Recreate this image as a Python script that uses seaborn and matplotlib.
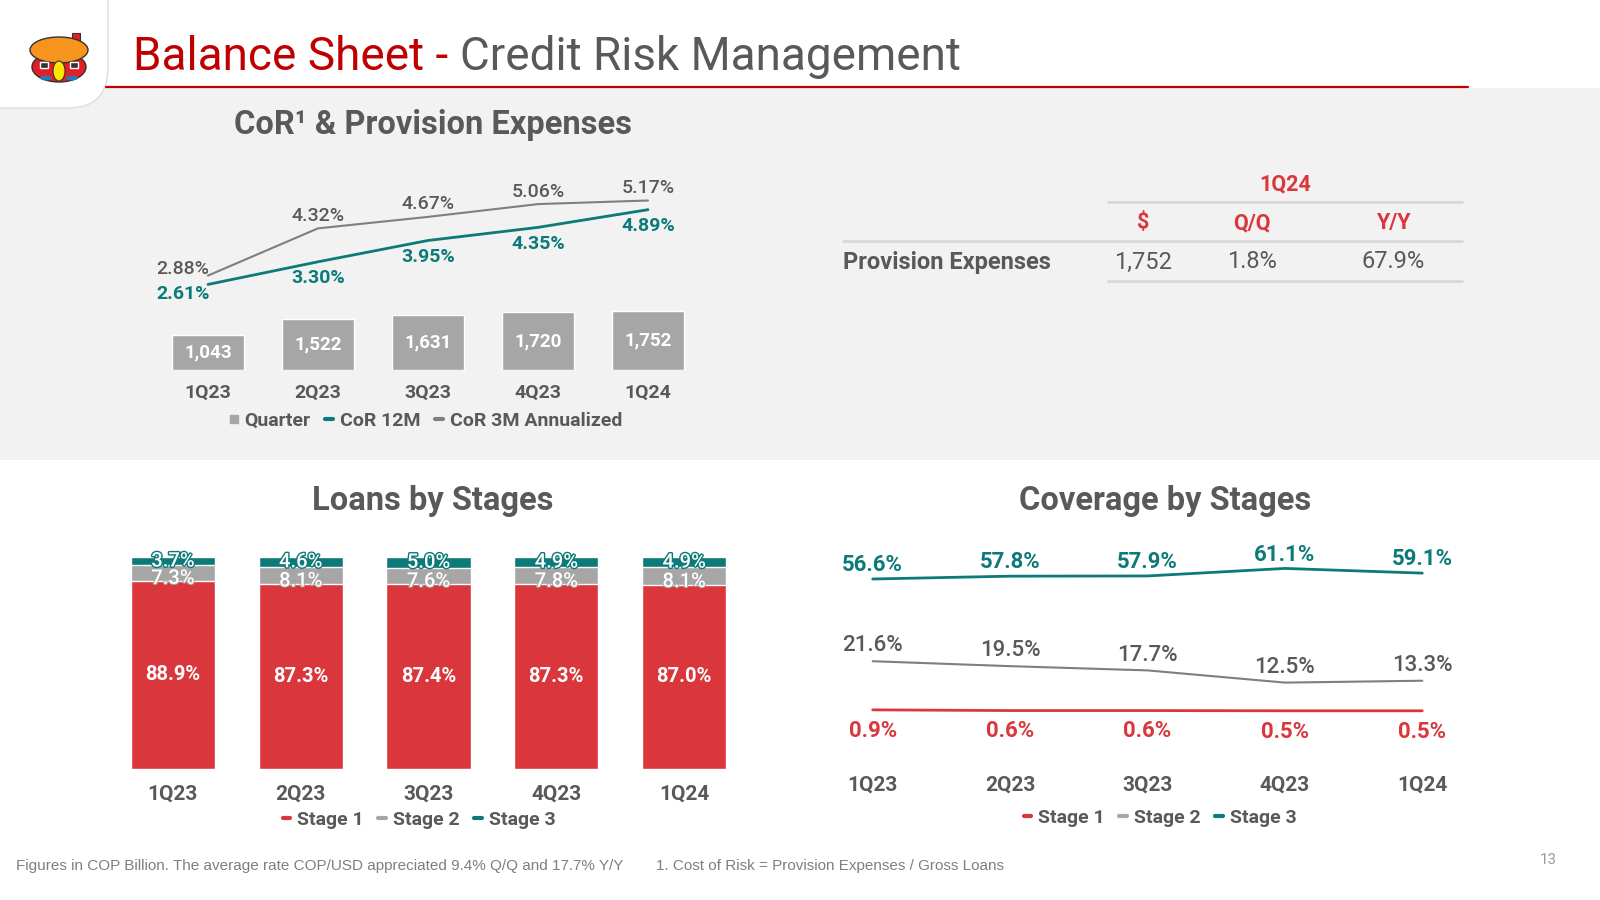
import numpy as np
import pandas as pd
import matplotlib
matplotlib.use("Agg")
import matplotlib.pyplot as plt
import matplotlib.patches as mpatches
import matplotlib.patheffects as pe
from matplotlib.lines import Line2D
import seaborn as sns

# Data
quarters = ["1Q23", "2Q23", "3Q23", "4Q23", "1Q24"]
provision_quarter = [1043, 1522, 1631, 1720, 1752]
cor_12m = [2.61, 3.30, 3.95, 4.35, 4.89]
cor_3m_annualized = [2.88, 4.32, 4.67, 5.06, 5.17]

loans_stage1 = [88.9, 87.3, 87.4, 87.3, 87.0]
loans_stage2 = [7.3, 8.1, 7.6, 7.8, 8.1]
loans_stage3 = [3.7, 4.6, 5.0, 4.9, 4.9]

coverage_stage1 = [0.9, 0.6, 0.6, 0.5, 0.5]
coverage_stage2 = [21.6, 19.5, 17.7, 12.5, 13.3]
coverage_stage3 = [56.6, 57.8, 57.9, 61.1, 59.1]

table_period = "1Q24"
table_columns = ["$", "Q/Q", "Y/Y"]
table_row_label = "Provision Expenses"
table_values = ["1,752", "1.8%", "67.9%"]

# Colours
RED = "#D9373C"
TITLE_RED = "#C00000"
TEAL = "#0B7A78"
GRAY_BAR = "#A6A6A6"
GRAY_LINE = "#7F7F7F"
TEXT_GRAY = "#595959"
PANEL = "#F2F2F2"

sns.set_theme(style="white")
plt.rcParams["font.family"] = ["Roboto", "DejaVu Sans"]

W, H = 1600, 900
fig = plt.figure(figsize=(16, 9), dpi=100)


def px_axes(x0, y0, x1, y1):
    ax = fig.add_axes([x0 / W, 1 - y1 / H, (x1 - x0) / W, (y1 - y0) / H])
    ax.patch.set_alpha(0)
    return ax


def clean(ax):
    for s in ax.spines.values():
        s.set_visible(False)
    ax.set_yticks([])
    ax.set_xlabel("")
    ax.set_ylabel("")


# ---------- background, header, logo ----------
bg = fig.add_axes([0, 0, 1, 1], zorder=0)
bg.set_xlim(0, W)
bg.set_ylim(H, 0)
bg.axis("off")
bg.add_patch(mpatches.Rectangle((0, 88), W, 372, color=PANEL, lw=0))
bg.add_patch(mpatches.FancyBboxPatch((-60, -60), 168, 168,
                                     boxstyle="round,pad=0,rounding_size=40",
                                     facecolor="white", edgecolor="#DDDDDD", lw=1))
bg.plot([106, 1468], [87, 87], color=TITLE_RED, lw=1.6)

# logo (simple house)
bg.add_patch(mpatches.Rectangle((72, 33), 8, 10, facecolor="#E31E24", edgecolor="#333333", lw=0.8))
bg.add_patch(mpatches.Ellipse((59, 67), 54, 30, facecolor="#E31E24", edgecolor="#333333", lw=1))
bg.add_patch(mpatches.Ellipse((59, 50), 58, 26, facecolor="#F7941D", edgecolor="#333333", lw=1))
bg.add_patch(mpatches.Ellipse((59, 71), 12, 20, facecolor="#FFE600", edgecolor="#333333", lw=0.8))
bg.add_patch(mpatches.Rectangle((40, 62), 8, 6, facecolor="#333333"))
bg.add_patch(mpatches.Rectangle((70, 62), 8, 6, facecolor="#333333"))
bg.add_patch(mpatches.Ellipse((46, 78), 12, 5, facecolor="#2E75B6", edgecolor="none"))
bg.add_patch(mpatches.Ellipse((72, 78), 12, 5, facecolor="#2E75B6", edgecolor="none"))

title_a = bg.text(133, 57, "Balance Sheet - ", color=TITLE_RED, fontsize=33, va="center", ha="left")
fig.canvas.draw()
bb = title_a.get_window_extent()
bg.text(133 + bb.width, 57, "Credit Risk Management", color=TEXT_GRAY, fontsize=33,
        va="center", ha="left")

# subtitles
sub = dict(color=TEXT_GRAY, fontsize=23.5, fontweight="bold", ha="center", va="center")
bg.text(433, 125, "CoR¹ & Provision Expenses", **sub)
bg.text(433, 501, "Loans by Stages", **sub)
bg.text(1165, 501, "Coverage by Stages", **sub)

# ---------- top-left: provisions and CoR ----------
pos = np.arange(len(quarters))
ax_top = px_axes(153, 150, 703, 370)
sns.barplot(x=quarters, y=provision_quarter, ax=ax_top, color=GRAY_BAR,
            width=0.66, saturation=1, errorbar=None)
ax_top.set_ylim(0, 6533)
ax_top.set_xlim(-0.5, 4.5)
clean(ax_top)
ax_top.tick_params(axis="x", length=0, pad=10, labelsize=14, colors=TEXT_GRAY)
for lab in ax_top.get_xticklabels():
    lab.set_fontweight("bold")
for i, v in enumerate(provision_quarter):
    ax_top.text(i, v / 2, f"{v:,}", ha="center", va="center", color="white",
                fontsize=13.5, fontweight="bold")

ax_cor = ax_top.twinx()
ax_cor.patch.set_alpha(0)
sns.lineplot(x=pos, y=cor_3m_annualized, ax=ax_cor, color=GRAY_LINE, lw=1.5)
sns.lineplot(x=pos, y=cor_12m, ax=ax_cor, color=TEAL, lw=2)
ax_cor.set_ylim(0, 6.71)
ax_cor.set_xlim(-0.5, 4.5)
clean(ax_cor)
for i in pos:
    dx = -18 if i == 0 else 0
    up = 5 if i == 0 else 9
    down = 7 if i == 0 else 12
    ax_cor.annotate(f"{cor_3m_annualized[i]:.2f}%", (i, cor_3m_annualized[i]),
                    xytext=(dx, up), textcoords="offset points", ha="center",
                    va="center", color=TEXT_GRAY, fontsize=14, fontweight="medium")
    ax_cor.annotate(f"{cor_12m[i]:.2f}%", (i, cor_12m[i]),
                    xytext=(dx, -down), textcoords="offset points", ha="center",
                    va="center", color=TEAL, fontsize=14, fontweight="bold")

legend_font = dict(family="Roboto", weight="bold", size=14)
legend_kw = dict(loc="center", ncol=3, frameon=False, prop=legend_font,
                 labelcolor=TEXT_GRAY, handlelength=0.4, handletextpad=0.35,
                 columnspacing=0.75)
h_top = [Line2D([], [], marker="s", linestyle="none", color=GRAY_BAR, markersize=6),
         Line2D([], [], color=TEAL, lw=3),
         Line2D([], [], color=GRAY_LINE, lw=3)]
fig.legend(h_top, ["Quarter", "CoR 12M", "CoR 3M Annualized"],
           bbox_to_anchor=(426 / W, 1 - 421 / H), **legend_kw)

# ---------- top-right: table ----------
col_x = [1143, 1252, 1393]
bg.text(1285, 184, table_period, color=RED, fontsize=15.5, fontweight="bold",
        ha="center", va="center")
bg.plot([1108, 1462], [202, 202], color="#D9D9D9", lw=2)
for x, c in zip(col_x, table_columns):
    bg.text(x, 223, c, color=RED, fontsize=15.5, fontweight="bold", ha="center", va="center")
bg.plot([843, 1462], [241, 241], color="#D9D9D9", lw=2)
bg.text(843, 262, table_row_label, color=TEXT_GRAY, fontsize=17, fontweight="bold",
        ha="left", va="center")
for x, v in zip(col_x, table_values):
    bg.text(x, 262, v, color=TEXT_GRAY, fontsize=17, ha="center", va="center")
bg.plot([1108, 1462], [281, 281], color="#D9D9D9", lw=2)

# ---------- bottom-left: loans by stages ----------
s1 = np.array(loans_stage1)
s12 = s1 + np.array(loans_stage2)
s123 = s12 + np.array(loans_stage3)
ax_loans = px_axes(109, 547, 748, 769)
sns.barplot(x=quarters, y=s123, ax=ax_loans, color=TEAL, width=0.66, saturation=1, errorbar=None)
sns.barplot(x=quarters, y=s12, ax=ax_loans, color=GRAY_BAR, width=0.66, saturation=1, errorbar=None)
sns.barplot(x=quarters, y=s1, ax=ax_loans, color=RED, width=0.66, saturation=1, errorbar=None)
ax_loans.set_ylim(0, 104.7)
ax_loans.set_xlim(-0.5, 4.5)
clean(ax_loans)
ax_loans.tick_params(axis="x", length=0, pad=11, labelsize=15, colors=TEXT_GRAY)
for lab in ax_loans.get_xticklabels():
    lab.set_fontweight("bold")
for i in pos:
    ax_loans.text(i, s1[i] / 2, f"{loans_stage1[i]:.1f}%", ha="center", va="center",
                  color="white", fontsize=14.5, fontweight="bold")
    ax_loans.annotate(f"{loans_stage2[i]:.1f}%", (i, (s1[i] + s12[i]) / 2),
                      xytext=(0, -4), textcoords="offset points", ha="center",
                      va="center", color="white", fontsize=14.5, fontweight="medium",
                      path_effects=[pe.withStroke(linewidth=1.5, foreground=GRAY_BAR)])
    ax_loans.annotate(f"{loans_stage3[i]:.1f}%", (i, (s12[i] + s123[i]) / 2),
                      xytext=(0, 0), textcoords="offset points", ha="center",
                      va="center", color="white", fontsize=14.5, fontweight="medium",
                      path_effects=[pe.withStroke(linewidth=2, foreground=TEAL)])

h_stage = [Line2D([], [], color=RED, lw=3),
           Line2D([], [], color=GRAY_BAR, lw=3),
           Line2D([], [], color=TEAL, lw=3)]
stage_names = ["Stage 1", "Stage 2", "Stage 3"]
fig.legend(h_stage, stage_names, bbox_to_anchor=(419 / W, 1 - 820 / H), **legend_kw)

# ---------- bottom-right: coverage by stages ----------
ax_cov = px_axes(804, 540, 1491, 770)
sns.lineplot(x=pos, y=coverage_stage3, ax=ax_cov, color=TEAL, lw=2)
sns.lineplot(x=pos, y=coverage_stage2, ax=ax_cov, color=GRAY_LINE, lw=1.5)
sns.lineplot(x=pos, y=coverage_stage1, ax=ax_cov, color=RED, lw=2)
ax_cov.set_ylim(-24.7, 73.2)
ax_cov.set_xlim(-0.5, 4.5)
clean(ax_cov)
ax_cov.set_xticks(pos)
ax_cov.set_xticklabels(quarters)
ax_cov.tick_params(axis="x", length=0, pad=4, labelsize=15, colors=TEXT_GRAY)
for lab in ax_cov.get_xticklabels():
    lab.set_fontweight("bold")
for i in pos:
    ax_cov.annotate(f"{coverage_stage3[i]:.1f}%", (i, coverage_stage3[i]),
                    xytext=(0, 10), textcoords="offset points", ha="center",
                    va="center", color=TEAL, fontsize=16, fontweight="bold")
    ax_cov.annotate(f"{coverage_stage2[i]:.1f}%", (i, coverage_stage2[i]),
                    xytext=(0, 11), textcoords="offset points", ha="center",
                    va="center", color=TEXT_GRAY, fontsize=16, fontweight="medium")
    ax_cov.annotate(f"{coverage_stage1[i]:.1f}%", (i, coverage_stage1[i]),
                    xytext=(0, -15), textcoords="offset points", ha="center",
                    va="center", color=RED, fontsize=16, fontweight="bold")

fig.legend(h_stage, stage_names, bbox_to_anchor=(1160 / W, 1 - 818 / H), **legend_kw)

# ---------- footer ----------
foot = dict(color="#7F7F7F", fontsize=11, family=["Liberation Sans", "DejaVu Sans"], va="center")
bg.text(16, 866, "Figures in COP Billion. The average rate COP/USD appreciated 9.4% Q/Q and 17.7% Y/Y",
        ha="left", **foot)
bg.text(656, 866, "1. Cost of Risk = Provision Expenses / Gross Loans", ha="left", **foot)
bg.text(1548, 860, "13", ha="center", color="#9A9A9A", fontsize=11, va="center")

fig.savefig("out.png", dpi=100)
